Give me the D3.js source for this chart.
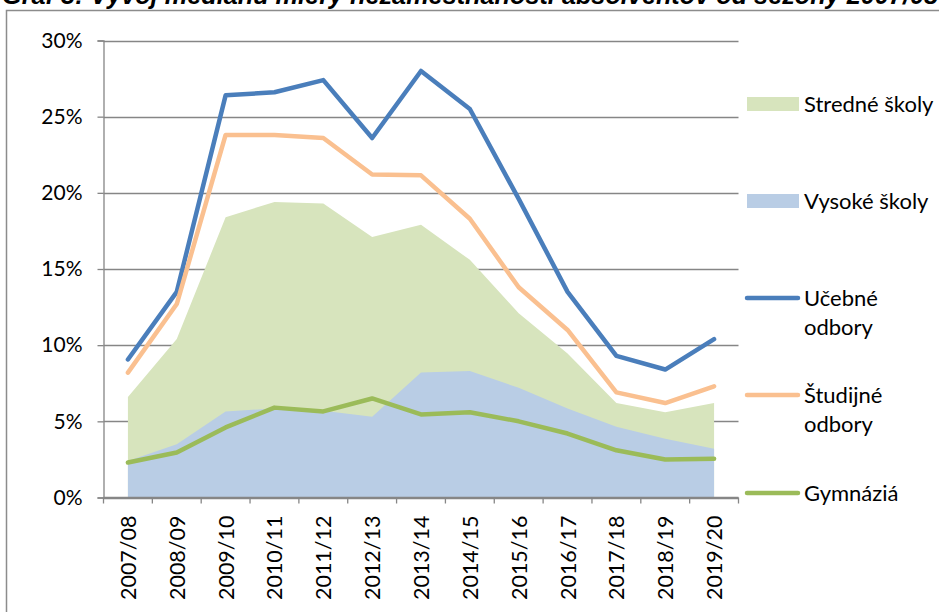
<!DOCTYPE html>
<html>
<head>
<meta charset="utf-8">
<script src="https://cdn.jsdelivr.net/npm/d3@7"></script>
<style>
  html, body { margin: 0; padding: 0; background: #fff; }
  svg { display: block; }
  text { font-family: Lato, "Liberation Sans", sans-serif; fill: #000; }
</style>
</head>
<body>
<svg id="chart" width="939" height="612"></svg>
<script>
const categories = ["2007/08","2008/09","2009/10","2010/11","2011/12","2012/13","2013/14","2014/15","2015/16","2016/17","2017/18","2018/19","2019/20"];
const stredneSkoly = [6.6, 10.4, 18.4, 19.4, 19.3, 17.1, 17.9, 15.6, 12.1, 9.45, 6.2, 5.6, 6.2];
const vysokeSkoly  = [2.4, 3.5, 5.65, 5.85, 5.7, 5.3, 8.2, 8.3, 7.2, 5.85, 4.65, 3.85, 3.2];
const ucebneOdbory = [9.06, 13.5, 26.4, 26.6, 27.4, 23.6, 28.0, 25.5, 19.6, 13.5, 9.3, 8.4, 10.4];
const studijneOdbory = [8.2, 12.7, 23.8, 23.8, 23.6, 21.2, 21.15, 18.3, 13.8, 11.0, 6.9, 6.2, 7.3];
const gymnazia = [2.3, 2.95, 4.6, 5.9, 5.65, 6.5, 5.45, 5.6, 5.0, 4.2, 3.1, 2.5, 2.55];
const yTicks = [0, 5, 10, 15, 20, 25, 30];
const titleText = "Graf 3: Vývoj mediánu miery nezamestnanosti absolventov od sezóny 2007/08";

const areaSeries = [
  { name: "Stredné školy", values: stredneSkoly, color: "#D7E4BD" },
  { name: "Vysoké školy", values: vysokeSkoly, color: "#B9CDE5" }
];
const lineSeries = [
  { name: ["Učebné", "odbory"], values: ucebneOdbory, color: "#4A7EBB" },
  { name: ["Študijné", "odbory"], values: studijneOdbory, color: "#FAC090" },
  { name: ["Gymnáziá"], values: gymnazia, color: "#9BBB59" }
];

const svg = d3.select("#chart");
const plot = { left: 103.5, right: 738.5, top: 40.5, bottom: 497.5 };

const x = d3.scaleBand().domain(categories).range([plot.left, plot.right]).padding(0);
const cx = c => x(c) + x.bandwidth() / 2;
const y = d3.scaleLinear().domain([0, 30]).range([plot.bottom, plot.top]);

// title (clipped at top, as in the reference)
const title = svg.append("text")
  .attr("x", 2).attr("y", 4)
  .style("font-family", "'Liberation Sans', Arial, sans-serif")
  .style("font-weight", "bold").style("font-style", "italic")
  .style("font-size", "21px")
  .text(titleText);
const tw = title.node().getComputedTextLength();
title.style("font-size", (21 * 936 / tw) + "px");

// frame
svg.append("path")
  .attr("d", "M6.5,612 L6.5,10.5 L939,10.5")
  .attr("fill", "none").attr("stroke", "#8c8c8c").attr("stroke-width", 1.5);

// gridlines
svg.append("g").selectAll("line").data(yTicks).join("line")
  .attr("x1", plot.left).attr("x2", plot.right)
  .attr("y1", d => Math.round(y(d)) + 0.5).attr("y2", d => Math.round(y(d)) + 0.5)
  .attr("stroke", "#868686").attr("stroke-width", 1.3);

// areas
const area = vals => d3.area()
  .x((d, i) => cx(categories[i]))
  .y0(y(0))
  .y1(d => y(d))(vals);
svg.append("g").selectAll("path").data(areaSeries).join("path")
  .attr("d", d => area(d.values))
  .attr("fill", d => d.color);

// axes
const yAxis = d3.axisLeft(y).tickValues(yTicks).tickSize(6).tickFormat(d => d + "%");
const gy = svg.append("g").attr("transform", `translate(${plot.left},0)`).call(yAxis);
gy.select(".domain").attr("stroke", "#868686").attr("stroke-width", 1.3);
gy.selectAll(".tick line").attr("stroke", "#868686").attr("stroke-width", 1.3);
gy.selectAll(".tick text").attr("x", -21).style("font-size", "21px").style("font-family", "Lato, sans-serif").attr("fill", "#000");

const gx = svg.append("g").attr("transform", `translate(0,${plot.bottom})`);
gx.append("line").attr("x1", plot.left).attr("x2", plot.right).attr("y1", 0).attr("y2", 0)
  .attr("stroke", "#868686").attr("stroke-width", 1.3);
const bounds = categories.map(c => x(c)).concat([plot.right]);
gx.selectAll("line.tk").data(bounds).join("line").attr("class", "tk")
  .attr("x1", d => d).attr("x2", d => d).attr("y1", 0).attr("y2", 6)
  .attr("stroke", "#868686").attr("stroke-width", 1.3);
gx.selectAll("text").data(categories).join("text")
  .attr("transform", d => `translate(${cx(d)},18) rotate(-90)`)
  .attr("text-anchor", "end").attr("dominant-baseline", "central")
  .style("font-size", "21.5px")
  .text(d => d);

// lines
const line = d3.line().x((d, i) => cx(categories[i])).y(d => y(d));
svg.append("g").selectAll("path").data(lineSeries).join("path")
  .attr("d", d => line(d.values))
  .attr("fill", "none").attr("stroke", d => d.color)
  .attr("stroke-width", 4.5).attr("stroke-linejoin", "round").attr("stroke-linecap", "round");

// legend
const lg = svg.append("g");
const areaLegendY = [104, 201];
areaSeries.forEach((s, i) => {
  lg.append("rect").attr("x", 747).attr("y", areaLegendY[i] - 7).attr("width", 52).attr("height", 14).attr("fill", s.color);
  lg.append("text").attr("x", 804).attr("y", areaLegendY[i] + 8).style("font-size", "22px").text(s.name);
});
const lineLegendY = [298, 395, 493];
lineSeries.forEach((s, i) => {
  lg.append("line").attr("x1", 747).attr("x2", 798).attr("y1", lineLegendY[i]).attr("y2", lineLegendY[i])
    .attr("stroke", s.color).attr("stroke-width", 4.5).attr("stroke-linecap", "round");
  s.name.forEach((t, j) => {
    lg.append("text").attr("x", 804).attr("y", lineLegendY[i] + 8 + j * 29).style("font-size", "22px").text(t);
  });
});
</script>
</body>
</html>
